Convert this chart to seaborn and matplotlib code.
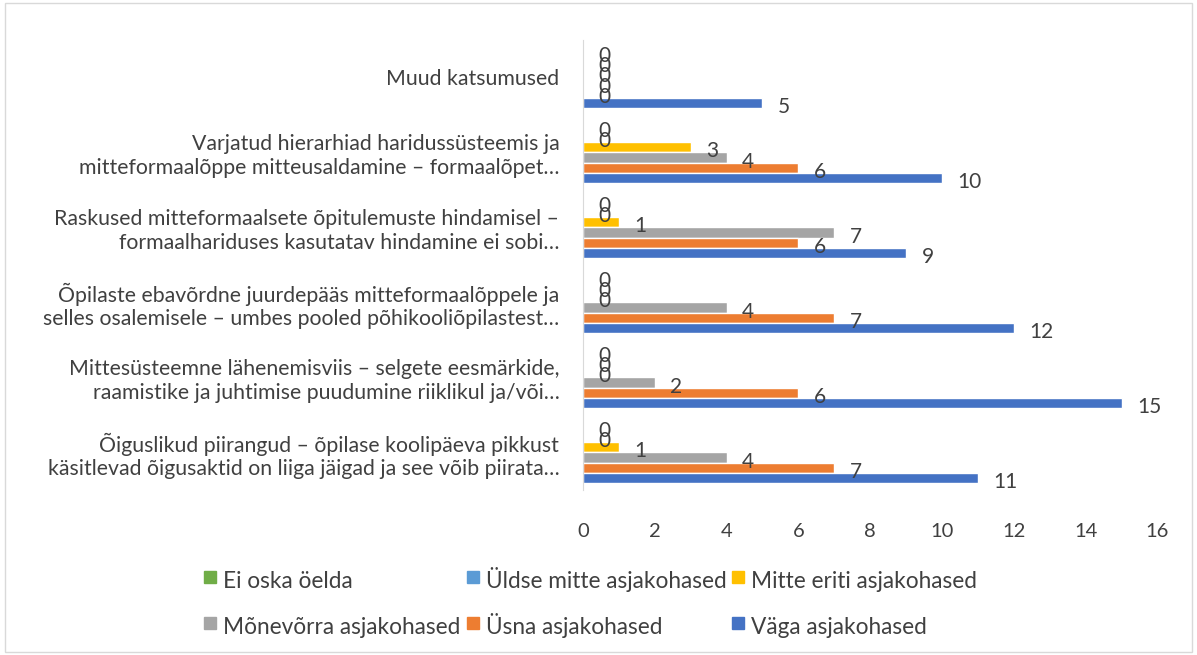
import pandas as pd
import numpy as np
import matplotlib.pyplot as plt
import seaborn as sns
from matplotlib.lines import Line2D
from matplotlib.patches import Rectangle

# categories, top to bottom as in the chart
categories = [
    "Muud katsumused",
    "Varjatud hierarhiad haridussüsteemis ja\nmitteformaalõppe mitteusaldamine – formaalõpet…",
    "Raskused mitteformaalsete õpitulemuste hindamisel –\nformaalhariduses kasutatav hindamine ei sobi…",
    "Õpilaste ebavõrdne juurdepääs mitteformaalõppele ja\nselles osalemisele – umbes pooled põhikooliõpilastest…",
    "Mittesüsteemne lähenemisviis – selgete eesmärkide,\nraamistike ja juhtimise puudumine riiklikul ja/või…",
    "Õiguslikud piirangud – õpilase koolipäeva pikkust\nkäsitlevad õigusaktid on liiga jäigad ja see võib piirata…",
]

series = ["Ei oska öelda", "Üldse mitte asjakohased", "Mitte eriti asjakohased",
          "Mõnevõrra asjakohased", "Üsna asjakohased", "Väga asjakohased"]

ei_oska = [0, 0, 0, 0, 0, 0]
uldse_mitte = [0, 0, 0, 0, 0, 0]
mitte_eriti = [0, 3, 1, 0, 0, 1]
monevorra = [0, 4, 7, 4, 2, 4]
usna = [0, 6, 6, 7, 6, 7]
vaga = [5, 10, 9, 12, 15, 11]

colors = {
    "Ei oska öelda": "#70AD47",
    "Üldse mitte asjakohased": "#5B9BD5",
    "Mitte eriti asjakohased": "#FFC000",
    "Mõnevõrra asjakohased": "#A5A5A5",
    "Üsna asjakohased": "#ED7D31",
    "Väga asjakohased": "#4472C4",
}

values = [ei_oska, uldse_mitte, mitte_eriti, monevorra, usna, vaga]
rows = []
for s, vals in zip(series, values):
    for c, v in zip(categories, vals):
        rows.append({"category": c, "series": s, "value": v})
df = pd.DataFrame(rows)

sns.set_style("white")
plt.rcParams['font.family'] = ['Lato', 'DejaVu Sans']
text_color = "#404040"

fig = plt.figure(figsize=(11.97, 6.55), dpi=100)
ax = fig.add_axes([0.487, 0.252, 0.48, 0.687])

sns.barplot(data=df, x="value", y="category", hue="series", order=categories,
            hue_order=series, palette=colors, orient="h", width=0.82, gap=0,
            saturation=1, legend=False, ax=ax)

# data labels at bar ends
for container, s in zip(ax.containers, series):
    for bar in container:
        v = bar.get_width()
        y = bar.get_y() + bar.get_height() / 2
        ax.annotate(f"{v:g}", (v, y), xytext=(11, -3), textcoords="offset points",
                    ha="left", va="center", fontsize=15, color=text_color)

ax.set_xlim(0, 16)
ax.set_xticks(np.arange(0, 17, 2))
ax.set_ylim(len(categories) - 0.5, -0.5)
ax.set_xlabel("")
ax.set_ylabel("")
ax.tick_params(axis="x", length=0, labelsize=14.5, colors=text_color, pad=24)
ax.tick_params(axis="y", length=0, labelsize=15.3, colors=text_color, pad=17)
for t in ax.get_yticklabels():
    t.set_horizontalalignment("right")
    t.set_multialignment("right")
for side in ["top", "right", "bottom"]:
    ax.spines[side].set_visible(False)
ax.spines["left"].set_color("#d9d9d9")
ax.grid(False)

# legend, filled row by row like in the original
handles = [Line2D([], [], marker="s", linestyle="none", markersize=9,
                  color=colors[s], label=s) for s in series]
idx = [0, 3, 1, 4, 2, 5]
fig.legend([handles[i] for i in idx], [series[i] for i in idx], ncol=3,
           loc="upper left", bbox_to_anchor=(0.163, 0.15), frameon=False,
           fontsize=16.3, labelcolor=text_color, handlelength=0.55, handleheight=1.6,
           handletextpad=0.3, columnspacing=0.25, labelspacing=0.75, borderaxespad=0)

fig.patches.append(Rectangle((0.004, 0.004), 0.992, 0.992, transform=fig.transFigure,
                             fill=False, edgecolor="#d9d9d9", linewidth=1))

fig.savefig("out.png", dpi=100)
